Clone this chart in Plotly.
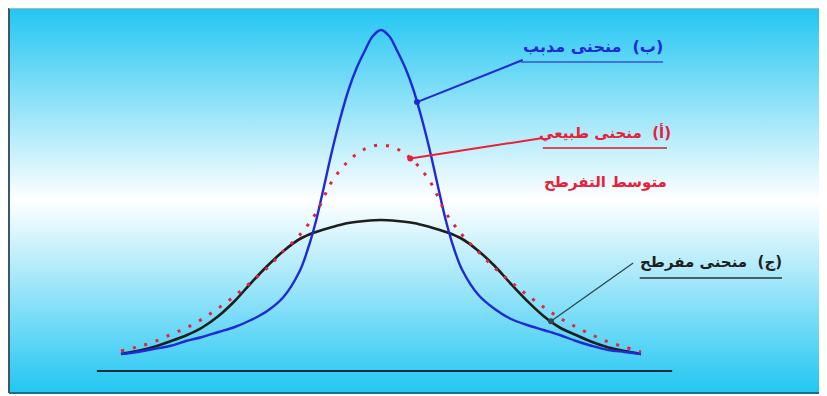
import plotly.graph_objects as go
import numpy as np

# x positions for the normal and platykurtic curves
x_vals = [-4.0, -3.75, -3.5, -3.25, -3.0, -2.75, -2.5, -2.25, -2.0, -1.75, -1.5, -1.25, -1.0, -0.75, -0.5, -0.25,
          0.0, 0.25, 0.5, 0.75, 1.0, 1.25, 1.5, 1.75, 2.0, 2.25, 2.5, 2.75, 3.0, 3.25, 3.5, 3.75, 4.0]
# (أ) normal
red_vals = [0.20, 0.24, 0.29, 0.36, 0.43, 0.52, 0.63, 0.75, 0.89, 1.03, 1.20, 1.36, 1.58, 1.90, 2.10, 2.22,
            2.26, 2.22, 2.10, 1.90, 1.58, 1.36, 1.19, 1.03, 0.89, 0.76, 0.64, 0.53, 0.44, 0.36, 0.29, 0.24, 0.19]
# (ج) platykurtic
black_vals = [0.17, 0.20, 0.24, 0.295, 0.355, 0.435, 0.55, 0.70, 0.88, 1.05, 1.20, 1.32, 1.39, 1.44, 1.48, 1.50,
              1.51, 1.50, 1.48, 1.44, 1.39, 1.32, 1.20, 1.05, 0.87, 0.70, 0.55, 0.435, 0.36, 0.29, 0.235, 0.20, 0.17]

# (ب) leptokurtic, finer steps around the peak
blue_x = [-4.0, -3.75, -3.5, -3.25, -3.0, -2.75, -2.5, -2.25, -2.0, -1.75, -1.5, -1.25, -1.125, -1.0, -0.875,
          -0.75, -0.625, -0.5, -0.375, -0.25, -0.125, 0.0, 0.125, 0.25, 0.375, 0.5, 0.625, 0.75, 0.875, 1.0,
          1.125, 1.25, 1.5, 1.75, 2.0, 2.25, 2.5, 2.75, 3.0, 3.25, 3.5, 3.75, 4.0]
blue_vals = [0.17, 0.19, 0.22, 0.25, 0.30, 0.34, 0.39, 0.44, 0.51, 0.60, 0.74, 1.00, 1.22, 1.50, 1.85,
             2.21, 2.53, 2.81, 3.03, 3.20, 3.35, 3.41, 3.35, 3.20, 3.03, 2.81, 2.53, 2.21, 1.85, 1.50,
             1.22, 1.01, 0.76, 0.62, 0.52, 0.46, 0.41, 0.36, 0.30, 0.25, 0.21, 0.19, 0.17]

label_blue = "\u202B(ب)\u00a0\u00a0منحنى مدبب\u202C"
label_red = "\u202B(أ)\u00a0\u00a0منحنى طبيعي\u202C"
label_red2 = "\u202Bمتوسط التفرطح\u202C"
label_black = "\u202B(ج)\u00a0\u00a0منحنى مفرطح\u202C"

BLUE = "#1f2ad6"
RED = "#e8203a"
BLACK = "#1e1e1e"

xr = [-5.723, 6.862]
yr = [-0.22, 3.63]

fig = go.Figure()

# gradient background
fig.add_trace(go.Scatter(
    x=[xr[0], xr[1], xr[1], xr[0], xr[0]], y=[yr[0], yr[0], yr[1], yr[1], yr[0]],
    mode="lines", fill="toself", line=dict(width=0),
    fillgradient=dict(type="vertical",
                      colorscale=[[0, "#22c6f2"], [0.5, "#ffffff"], [1, "#22c6f2"]]),
    hoverinfo="skip", showlegend=False))

fig.add_trace(go.Scatter(x=x_vals, y=black_vals, mode="lines", line=dict(color=BLACK, width=2.6, shape="spline"),
                         showlegend=False))
fig.add_trace(go.Scatter(x=blue_x, y=blue_vals, mode="lines", line=dict(color=BLUE, width=2.4, shape="spline"),
                         showlegend=False))
fig.add_trace(go.Scatter(x=x_vals, y=red_vals, mode="lines",
                         line=dict(color=RED, width=3, dash="3px,9px", shape="spline"), showlegend=False))

# baseline
fig.add_shape(type="line", x0=-4.37, x1=4.48, y0=0, y1=0, line=dict(color="#15303c", width=2))


def pointer(x_at, xs, vals, x0, y0, color, width):
    y_at = float(np.interp(x_at, xs, vals))
    fig.add_shape(type="line", x0=x0, y0=y0, x1=x_at, y1=y_at, line=dict(color=color, width=width))
    fig.add_trace(go.Scatter(x=[x_at], y=[y_at], mode="markers", marker=dict(color=color, size=6),
                             showlegend=False, hoverinfo="skip"))


pointer(0.554, blue_x, blue_vals, 2.18, 3.11, BLUE, 2)
pointer(0.45, x_vals, red_vals, 2.49, 2.33, RED, 2)
pointer(2.615, x_vals, black_vals, 3.88, 1.08, "#2e4a50", 1.4)

fig.add_annotation(x=3.26, y=3.25, text="<b>" + label_blue + "</b>", showarrow=False,
                   font=dict(family="DejaVu Sans", size=16, color=BLUE))
fig.add_shape(type="line", x0=2.15, x1=4.34, y0=3.09, y1=3.09, line=dict(color="#3650d8", width=1.6))

fig.add_annotation(x=3.45, y=2.39, text="<b>" + label_red + "</b>", showarrow=False,
                   font=dict(family="DejaVu Sans", size=15, color=RED))
fig.add_shape(type="line", x0=2.49, x1=4.40, y0=2.23, y1=2.23, line=dict(color="#c8202c", width=1.6))
fig.add_annotation(x=3.45, y=1.89, text="<b>" + label_red2 + "</b>", showarrow=False,
                   font=dict(family="DejaVu Sans", size=15, color=RED))

fig.add_annotation(x=5.08, y=1.09, text="<b>" + label_black + "</b>", showarrow=False,
                   font=dict(family="DejaVu Sans", size=15, color=BLACK))
fig.add_shape(type="line", x0=3.98, x1=6.17, y0=0.93, y1=0.93, line=dict(color="#303030", width=1.6))

# frame edges
fig.add_shape(type="line", xref="paper", yref="paper", x0=0, x1=0, y0=0, y1=1,
              line=dict(color="#3c5866", width=2))
fig.add_shape(type="line", xref="paper", yref="paper", x0=0, x1=1, y0=1, y1=1,
              line=dict(color="#a8b8c0", width=2))
fig.add_shape(type="line", xref="paper", yref="paper", x0=0, x1=1, y0=0, y1=0,
              line=dict(color="#16708a", width=2))

fig.update_xaxes(range=xr, visible=False, fixedrange=True)
fig.update_yaxes(range=yr, visible=False, fixedrange=True)
# the page body adds 8px around the figure, so the figure is 8px smaller
fig.update_layout(width=819, height=388, margin=dict(l=1, r=0, t=0, b=3),
                  paper_bgcolor="white", plot_bgcolor="white")

fig.write_html("out.html")
